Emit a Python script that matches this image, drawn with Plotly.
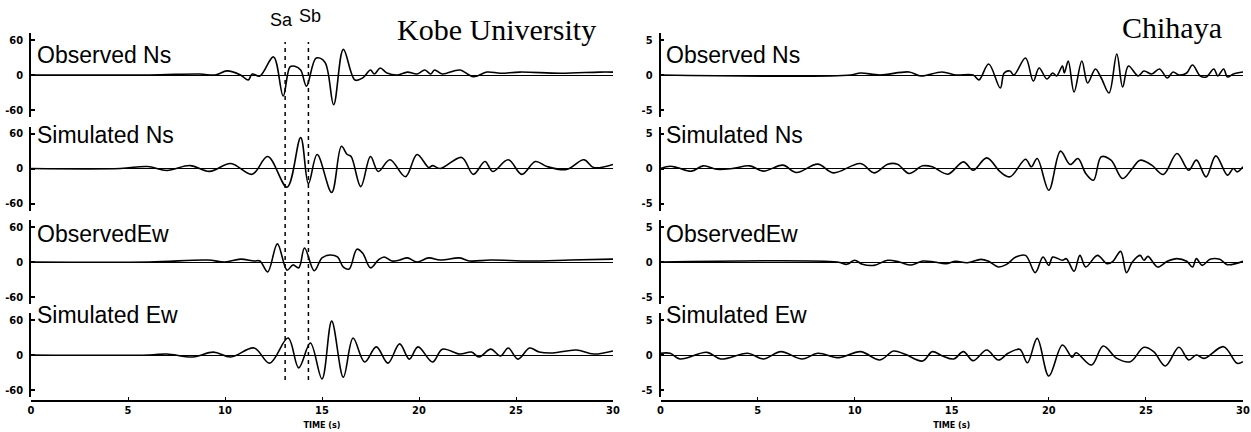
import plotly.graph_objects as go

W, H = 1251, 432

TIME_TICKS = [0, 5, 10, 15, 20, 25, 30]
KOBE_TICKS = [-60, 0, 60]
CHIHAYA_TICKS = [-5, 0, 5]
SA_T = 13.1
SB_T = 14.3

# ---- Kobe University (left panel) ----
KOBE_OBS_NS_T = [0, 6.1, 8.7, 9.5, 10.1, 10.8, 11.2, 11.4, 11.8, 12.5, 13.0, 13.35, 13.6, 13.9, 14.2, 14.7,
                 15.15, 15.6, 16.1, 16.7, 17.1, 17.5, 17.7, 18.0, 18.35, 18.9, 19.4, 19.9, 20.3, 20.6, 20.8,
                 21.2, 22.1, 22.8, 23.5, 24.2, 25.2, 27.3, 29.3, 30]
KOBE_OBS_NS_V = [0, 0, 1.7, 0, 7, 0, -8.6, 1.7, -1.7, 31, -36, 14, 15, 8.6, -19, 29,
                 22, -51, 44, -8.6, -5, 8.6, 1.7, 12, 3.4, 0, 5, 1.7, 8.6, 1.7, 8.6,
                 1.7, 8.6, -3, 5, 3, 5, 3, 5, 5]

KOBE_SIM_NS_T = [0, 4.6, 6.0, 7.0, 8.2, 9.2, 10.3, 11.4, 12.2, 13.2, 13.9, 14.3, 14.75, 15.5, 16.0, 16.3,
                 16.5, 17.0, 17.5, 17.9, 18.5, 19.3, 19.9, 20.5, 20.7, 21.1, 22.2, 22.8, 23.4, 23.8, 24.6,
                 25.3, 26.0, 26.6, 27.6, 28.5, 29.0, 30]
KOBE_SIM_NS_V = [0, 0, 3.4, -3.4, 5, -5, 8.6, -10, 20.5, -32, 53, -26, 24, -41, 38, 24,
                 20.5, -31, 20.5, -5, 15, -14, 24, 1.7, 5, 0, 19, -10, 12, -5, 15,
                 -10, 12, 3.4, -1.7, 15, 1.7, 7]

KOBE_OBS_EW_T = [0, 6.1, 9.1, 10.0, 10.8, 11.5, 11.8, 12.2, 12.7, 13.2, 13.5, 13.8, 14.1, 14.6, 15.0, 15.4,
                 15.8, 16.1, 16.4, 16.8, 17.1, 17.5, 17.9, 18.2, 18.6, 19.0, 19.4, 19.9, 20.5, 21.1, 22.1,
                 22.6, 23.7, 25.7, 27.8, 30]
KOBE_OBS_EW_V = [0, 0, 3.4, 0, 5, 1.7, 1.7, -17, 31, -14, -5, -10, 24, -15, 7, 12,
                 8.6, -8.6, -12, 22, 15, -10, 3.4, 8.6, 1.7, 3.4, 7, 0, 7, 3.4, 7,
                 1.7, 3.4, 1.7, 3.4, 5]

KOBE_SIM_EW_T = [0, 6.1, 7.0, 8.35, 9.4, 10.3, 11.5, 12.3, 13.25, 13.8, 14.4, 15.0, 15.5, 16.1, 16.6, 17.2,
                 17.8, 18.4, 19.0, 19.5, 19.95, 20.7, 21.2, 22.1, 22.7, 23.1, 23.7, 24.2, 24.6, 25.1, 25.7,
                 26.2, 26.9, 28.1, 29.0, 30]
KOBE_SIM_EW_V = [0, 0, 1.7, -3.4, 5, -3.4, 12, -14, 29, -22, 20.5, -41, 58, -38, 29, -12,
                 14, -14, 19, -7, 14, -12, 10, 1.7, 5, -3.4, 10, -1.7, 12, -7, 12,
                 5, 3.4, 8.6, 1.7, 7]

# ---- Chihaya (right panel) ----
CHI_OBS_NS_T = [0, 9.8, 10.3, 11.3, 12.8, 13.4, 14.5, 15.2, 16.1, 16.4, 16.9, 17.5, 17.7, 18.0, 18.2, 18.8,
                19.2, 19.5, 19.9, 20.2, 20.4, 20.7, 20.8, 21.0, 21.3, 21.7, 22.0, 22.4, 22.7, 23.1, 23.5,
                23.8, 24.1, 24.6, 24.9, 25.3, 25.7, 26.1, 26.4, 26.7, 27.1, 27.4, 27.8, 28.1, 28.5, 28.7,
                29.0, 29.2, 29.5, 30]
CHI_OBS_NS_V = [0, 0, 0.29, 0, 0.43, -0.14, 0.43, 0, 0, -0.7, 1.57, -1.86, 0.29, 0.57, 0, 2.43,
                -0.86, 1.0, -0.57, 0.29, -0.14, 1.29, 0.29, 2.0, -2.43, 2.0, -1.14, 0.86, -0.43, -2.57, 3.0,
                -1.71, 1.29, -0.14, 0.57, 0.14, 0.86, -0.43, 0.43, 0, 0.29, 1.43, -0.14, -0.29, 0.86, -0.14,
                0.86, -0.29, 0.14, 0.43]

CHI_SIM_NS_T = [0, 0.5, 0.9, 1.6, 2.2, 2.9, 3.7, 4.6, 5.3, 6.3, 7.0, 8.1, 8.9, 10.3, 11.0, 11.7,
                12.2, 12.8, 13.5, 14.0, 14.8, 15.6, 16.1, 16.8, 17.5, 18.0, 18.8, 19.1, 19.4, 20.0, 20.6,
                21.1, 21.5, 21.9, 22.3, 22.7, 23.2, 23.8, 24.3, 24.7, 25.3, 25.9, 26.6, 27.2, 27.6, 28.1,
                28.6, 29.2, 29.5, 29.7, 30]
CHI_SIM_NS_V = [0, 0.33, 0.1, -0.38, 0.38, -0.1, 0, 0.38, -0.38, 0.48, -0.57, 0.62, -0.62, 0.71, -0.62, 0.62,
                0.62, -0.71, 0.38, 0.24, -0.81, 0.95, -0.24, 1.52, -0.48, -1.19, 1.33, 0.24, 1.43, -3.1, 2.48,
                0.57, 1.43, -0.71, -1.67, 1.67, 1.19, -1.43, 0, 1.19, 0.48, -0.86, 2.14, -0.24, 1.19, -1.19,
                1.81, -0.95, 0, -0.48, 0.24]

CHI_OBS_EW_T = [0, 9.1, 9.6, 10.0, 10.4, 11.0, 11.7, 12.3, 12.9, 13.5, 14.1, 14.7, 15.2, 15.8, 16.5, 16.9,
                17.4, 17.8, 18.3, 18.8, 19.3, 19.7, 20.0, 20.2, 20.7, 20.9, 21.3, 21.6, 21.9, 22.5, 23.0,
                23.3, 23.7, 24.0, 24.3, 24.7, 24.9, 25.1, 25.6, 26.1, 26.6, 27.1, 27.4, 27.6, 27.9, 28.3,
                28.8, 29.2, 30]
CHI_OBS_EW_V = [0, 0, -0.33, 0.24, -0.33, -0.48, 0.24, 0, -0.43, 0.14, 0, -0.24, 0.1, -0.1, 0.38, 0.1,
                -0.71, -0.38, 0.71, 0.95, -1.52, 0.71, -0.48, 0.71, 0.24, 0.48, -1.33, 0.95, -0.71, 0.95, -0.24,
                0.1, 1.52, -1.52, 0, 0.95, 0.24, 0.81, -0.71, 0.1, 0.48, 0.1, -0.71, 0.48, -0.48, 0.38,
                0.38, -0.38, 0.1]

CHI_SIM_EW_T = [0, 0.5, 1.0, 2.4, 3.1, 4.5, 5.3, 6.2, 7.3, 8.1, 9.2, 10.3, 11.3, 12.0, 12.6, 13.5,
                14.0, 14.5, 15.1, 15.6, 16.1, 16.8, 17.4, 17.9, 18.5, 18.9, 19.4, 20.0, 20.7, 21.2, 21.4,
                22.2, 22.8, 23.5, 24.2, 24.9, 25.4, 26.0, 26.7, 27.2, 27.6, 28.0, 29.0, 29.7, 30]
CHI_SIM_EW_V = [0.24, 0.24, -0.57, 0.38, -0.57, 0.24, -0.57, 0.48, -0.57, 0.24, -0.38, 0.48, -0.71, 0.57, 0.1, -0.86,
                0.48, -0.1, -0.57, 0.48, -0.81, 0.71, -0.71, 0.24, 0.81, -1.1, 2.38, -3.0, 1.43, -0.33, 0.33,
                -1.43, 1.29, -0.48, -0.95, 1.1, 0.48, -1.57, 1.1, -0.71, 0, -0.48, 1.19, -1.19, -0.95]

ROW_LABELS = ["Observed Ns", "Simulated Ns", "ObservedEw", "Simulated Ew"]
KOBE_SERIES = [(KOBE_OBS_NS_T, KOBE_OBS_NS_V), (KOBE_SIM_NS_T, KOBE_SIM_NS_V),
               (KOBE_OBS_EW_T, KOBE_OBS_EW_V), (KOBE_SIM_EW_T, KOBE_SIM_EW_V)]
CHI_SERIES = [(CHI_OBS_NS_T, CHI_OBS_NS_V), (CHI_SIM_NS_T, CHI_SIM_NS_V),
              (CHI_OBS_EW_T, CHI_OBS_EW_V), (CHI_SIM_EW_T, CHI_SIM_EW_V)]


def px_x(p):
    return p / W


def px_y(p):
    return 1 - p / H


def bold(vals):
    return [f"<b>{v}</b>" for v in vals]


ZERO_PX = [75, 168.5, 262, 355]
HALF = 42
LEFT_DOM = [px_x(31), px_x(613)]
RIGHT_DOM = [px_x(660.5), px_x(1243)]

fig = go.Figure()
layout = dict(
    width=W, height=H, margin=dict(l=0, r=0, t=0, b=0),
    paper_bgcolor="white", plot_bgcolor="rgba(0,0,0,0)", showlegend=False,
)

NARROW = "Liberation Sans Narrow, DejaVu Sans Condensed, Liberation Sans"
tick_font = dict(family=NARROW, size=11, color="black")

for ci, (xname, dom) in enumerate([("xaxis", LEFT_DOM), ("xaxis2", RIGHT_DOM)]):
    layout[xname] = dict(
        domain=dom, range=[0, 30], anchor="free", position=px_y(400.5),
        showline=True, linecolor="black", linewidth=1.5, ticks="inside", ticklen=3,
        tickcolor="black", tickvals=TIME_TICKS, ticktext=bold(TIME_TICKS), tickfont=tick_font,
        showgrid=False, zeroline=False, automargin=False,
        title=dict(text="<b>TIME (s)</b>", font=dict(family=NARROW, size=9, color="black"), standoff=4),
    )

panels = [("x", "xaxis", KOBE_SERIES, KOBE_TICKS, 72), ("x2", "xaxis2", CHI_SERIES, CHIHAYA_TICKS, 6)]
n = 0
for ci, (xref, xname, series, yticks, yr) in enumerate(panels):
    for ri, (tv, vv) in enumerate(series):
        n += 1
        yname = "yaxis" if n == 1 else f"yaxis{n}"
        yref = "y" if n == 1 else f"y{n}"
        z = ZERO_PX[ri]
        layout[yname] = dict(
            domain=[px_y(z + HALF), px_y(z - HALF)], range=[-yr, yr], anchor=xref,
            showline=True, linecolor="black", linewidth=1.5,
            tickvals=[-yr * 0.999] + yticks + [yr * 0.999],
            ticktext=[""] + bold(yticks) + [""],
            ticks="inside", ticklen=4, tickcolor="black", tickwidth=1.5,
            tickfont=tick_font, showgrid=False, zeroline=True,
            zerolinecolor="black", zerolinewidth=1, automargin=False, ticklabelstandoff=4,
        )
        fig.add_trace(go.Scatter(
            x=tv, y=vv, xaxis=xref, yaxis=yref, mode="lines",
            line=dict(color="black", width=1.6, shape="spline", smoothing=1.0),
            hoverinfo="skip",
        ))

annotations = []
label_font = dict(family="Liberation Sans, Arial", size=23, color="black")
LABEL_Y = [55, 135, 234, 315]
for ci, xstart in enumerate([35, 664]):
    for ri, lab in enumerate(ROW_LABELS):
        annotations.append(dict(
            text=lab, x=px_x(xstart), y=px_y(LABEL_Y[ri]), xref="paper", yref="paper",
            xanchor="left", yanchor="middle", showarrow=False, font=label_font,
        ))

title_font = dict(family="Liberation Serif, Times New Roman", size=30, color="black")
annotations.append(dict(text="Kobe University", x=px_x(598), y=px_y(30), xref="paper", yref="paper",
                        xanchor="right", yanchor="middle", showarrow=False, font=title_font))
annotations.append(dict(text="Chihaya", x=px_x(1224), y=px_y(28), xref="paper", yref="paper",
                        xanchor="right", yanchor="middle", showarrow=False, font=title_font))

s_font = dict(family="Liberation Sans, Arial", size=18, color="black")
annotations.append(dict(text="Sa", x=SA_T - 0.2, y=px_y(20), xref="x", yref="paper",
                        xanchor="center", yanchor="middle", showarrow=False, font=s_font))
annotations.append(dict(text="Sb", x=SB_T + 0.1, y=px_y(16), xref="x", yref="paper",
                        xanchor="center", yanchor="middle", showarrow=False, font=s_font))
layout["annotations"] = annotations

shapes = []
for t in [SA_T, SB_T]:
    shapes.append(dict(type="line", xref="x", yref="paper", x0=t, x1=t, y0=px_y(380), y1=px_y(42),
                       line=dict(color="black", width=1.5, dash="4px,4px")))
layout["shapes"] = shapes

fig.update_layout(**layout)
fig.write_html("out.html")
